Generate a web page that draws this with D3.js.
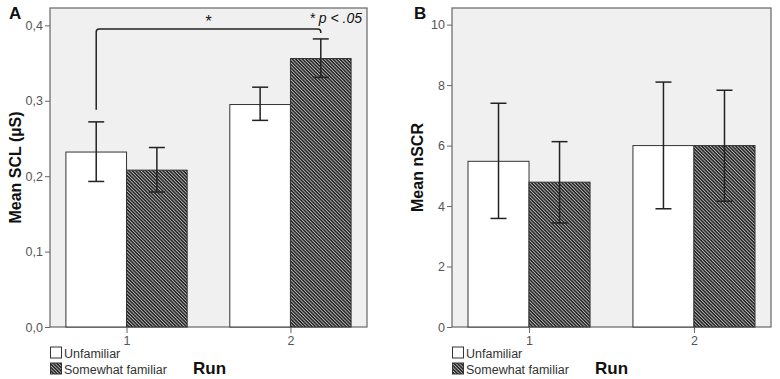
<!DOCTYPE html>
<html>
<head>
<meta charset="utf-8">
<script src="https://cdn.jsdelivr.net/npm/d3@7"></script>
<style>
  body { margin: 0; background: #fff; }
  text { font-family: Arial, "Liberation Sans", sans-serif; }
</style>
</head>
<body>
<div id="chart"></div>
<script>
var runs = ["1", "2"];
var groups = ["Unfamiliar", "Somewhat familiar"];

// panel A: mean SCL, with error bar low/high
var sclMean = [[0.232, 0.208], [0.295, 0.356]];
var sclLow  = [[0.193, 0.179], [0.274, 0.331]];
var sclHigh = [[0.272, 0.238], [0.318, 0.382]];
var sclTicks = [0, 0.1, 0.2, 0.3, 0.4];

// panel B: mean nSCR
var scrMean = [[5.48, 4.79], [6.0, 6.0]];
var scrLow  = [[3.59, 3.44], [3.91, 4.16]];
var scrHigh = [[7.40, 6.13], [8.10, 7.83]];
var scrTicks = [0, 2, 4, 6, 8, 10];

var svg = d3.select("#chart")
    .append("svg")
      .attr("width", 780)
      .attr("height", 379);

// hatch pattern (lines running top-left to bottom-right)
var pat = svg.append("defs").append("pattern")
    .attr("id", "hatch")
    .attr("patternUnits", "userSpaceOnUse")
    .attr("width", 2.4)
    .attr("height", 2.4)
    .attr("patternTransform", "rotate(45)");
pat.append("rect").attr("width", 2.4).attr("height", 2.4).attr("fill", "#b8b8b8");
pat.append("rect").attr("width", 2.4).attr("height", 1.45).attr("fill", "#1e1e1e");

function panel(opt) {
    var left = opt.left, right = opt.right, top = 8, bottom = 327;

    var x = d3.scalePoint().domain(runs).range([left, right]).padding(0.467);
    var step = x.step();
    var bw = step * 0.37;
    var y = d3.scaleLinear().domain([0, opt.ymax]).range([bottom, top]);

    var g = svg.append("g");

    g.append("rect")
        .attr("x", left).attr("y", top)
        .attr("width", right - left).attr("height", bottom - top)
        .attr("fill", "#f0f0f0")
        .attr("stroke", "#666").attr("stroke-width", 1.2);

    // bars
    runs.forEach(function (r, i) {
        groups.forEach(function (gr, j) {
            var x0 = x(r) + (j - 1) * bw;
            g.append("rect")
                .attr("x", x0)
                .attr("y", y(opt.mean[i][j]))
                .attr("width", bw)
                .attr("height", y(0) - y(opt.mean[i][j]))
                .attr("fill", j == 0 ? "#fff" : "url(#hatch)")
                .attr("stroke", "#333").attr("stroke-width", 1);
        });
    });

    // error bars
    runs.forEach(function (r, i) {
        groups.forEach(function (gr, j) {
            var cx = x(r) + (j - 0.5) * bw;
            var eb = g.append("g").attr("stroke", "#222").attr("stroke-width", 1.5);
            eb.append("line").attr("x1", cx).attr("x2", cx)
                .attr("y1", y(opt.low[i][j])).attr("y2", y(opt.high[i][j]));
            eb.append("line").attr("x1", cx - 8).attr("x2", cx + 8)
                .attr("y1", y(opt.low[i][j])).attr("y2", y(opt.low[i][j]));
            eb.append("line").attr("x1", cx - 8).attr("x2", cx + 8)
                .attr("y1", y(opt.high[i][j])).attr("y2", y(opt.high[i][j]));
        });
    });

    // y axis
    var ya = g.append("g")
        .attr("transform", "translate(" + left + ",0)")
        .call(d3.axisLeft(y).tickValues(opt.ticks).tickSize(5).tickPadding(2).tickFormat(opt.fmt));
    ya.select(".domain").remove();
    ya.selectAll("line").attr("stroke", "#666");
    ya.selectAll("text").attr("fill", "#555").style("font-size", "12.5px");

    // x axis
    var xa = g.append("g")
        .attr("transform", "translate(0," + bottom + ")")
        .call(d3.axisBottom(x).tickSize(6).tickPadding(3));
    xa.select(".domain").remove();
    xa.selectAll("line").attr("stroke", "#666");
    xa.selectAll("text").attr("fill", "#555").style("font-size", "12.5px");

    // y label
    g.append("text")
        .attr("transform", "rotate(-90)")
        .attr("x", -(top + bottom) / 2)
        .attr("y", opt.labelX)
        .style("text-anchor", "middle")
        .style("font-weight", "bold")
        .style("font-size", "16px")
        .attr("fill", "#111")
        .text(opt.ylabel);

    // panel letter
    g.append("text")
        .attr("x", opt.letterX).attr("y", 19)
        .style("font-weight", "bold").style("font-size", "17px")
        .attr("fill", "#111")
        .text(opt.letter);

    // legend
    groups.forEach(function (gr, j) {
        var ly = 347 + j * 16;
        g.append("rect")
            .attr("x", left + 0.5).attr("y", ly)
            .attr("width", 11).attr("height", 11)
            .attr("fill", j == 0 ? "#fff" : "url(#hatch)")
            .attr("stroke", "#333").attr("stroke-width", 1);
        g.append("text")
            .attr("x", left + 14).attr("y", ly + 10.5)
            .style("font-size", "12.5px")
            .attr("fill", "#333")
            .text(gr);
    });

    g.append("text")
        .attr("x", opt.runX).attr("y", 374)
        .style("font-weight", "bold").style("font-size", "17px")
        .attr("fill", "#111")
        .text("Run");

    return {g: g, x: x, y: y, bw: bw};
}

var pA = panel({left: 50, right: 367, ymax: 0.423, mean: sclMean, low: sclLow, high: sclHigh,
    ticks: sclTicks, fmt: function (d) { return d3.format(".1f")(d).replace(".", ","); },
    ylabel: "Mean SCL (µS)", labelX: 21, letter: "A", letterX: 9, runX: 193});

var pB = panel({left: 452, right: 771, ymax: 10.55, mean: scrMean, low: scrLow, high: scrHigh,
    ticks: scrTicks, fmt: d3.format("d"),
    ylabel: "Mean nSCR", labelX: 423, letter: "B", letterX: 414, runX: 595});

// significance bracket on panel A
var bx1 = pA.x("1") - pA.bw / 2, bx2 = pA.x("2") + pA.bw / 2;
var by = pA.y(0.395);
pA.g.append("path")
    .attr("d", "M" + bx1 + "," + pA.y(0.288) + " L" + bx1 + "," + (by + 3) +
        " Q" + bx1 + "," + by + " " + (bx1 + 3) + "," + by +
        " L" + (bx2 - 3) + "," + by +
        " Q" + bx2 + "," + by + " " + bx2 + "," + (by + 3) +
        " L" + bx2 + "," + pA.y(0.390))
    .attr("fill", "none").attr("stroke", "#222").attr("stroke-width", 1.5);

pA.g.append("text")
    .attr("x", (bx1 + bx2) / 2).attr("y", 27)
    .style("text-anchor", "middle").style("font-size", "16px")
    .attr("fill", "#111")
    .text("*");

pA.g.append("text")
    .attr("x", 362).attr("y", 23)
    .style("text-anchor", "end").style("font-size", "14px").style("font-style", "italic")
    .attr("fill", "#111")
    .text("* p < .05");
</script>
</body>
</html>
